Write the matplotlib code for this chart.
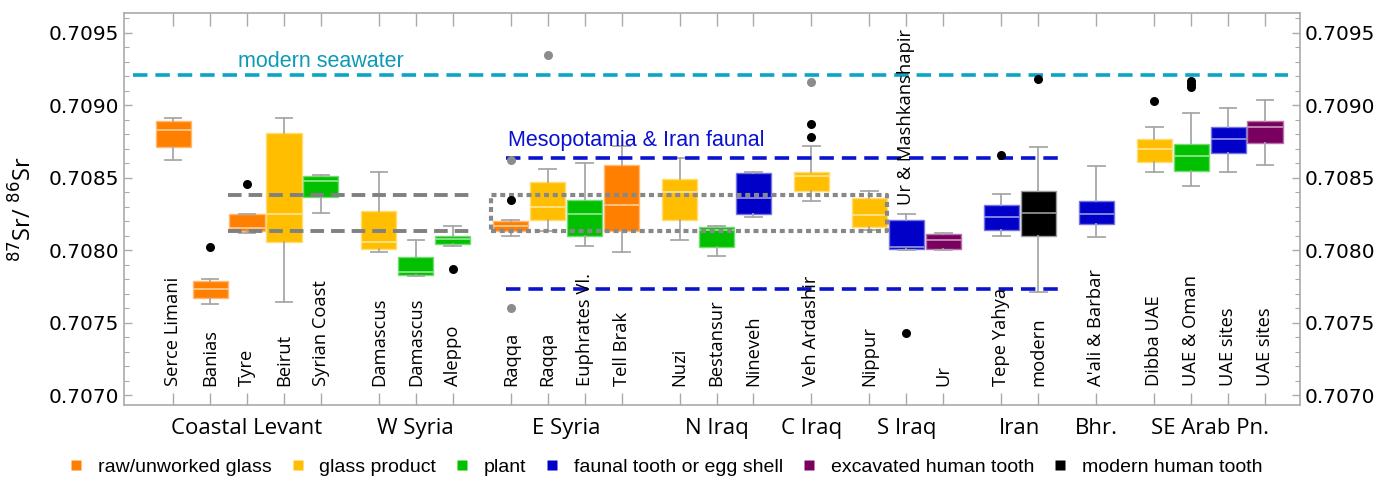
import matplotlib
matplotlib.use("Agg")
import matplotlib.pyplot as plt
from matplotlib.lines import Line2D
from matplotlib.colors import to_rgb
from matplotlib.ticker import MultipleLocator
import matplotlib.transforms as mtransforms

# --- data ---
site_labels = ["Serce Limani", "Banias", "Tyre", "Beirut", "Syrian Coast",
               "Damascus", "Damascus", "Aleppo",
               "Raqqa", "Raqqa", "Euphrates Vl.", "Tell Brak",
               "Nuzi", "Bestansur", "Nineveh",
               "Veh Ardashir",
               "Nippur", "Ur & Mashkanshapir", "Ur",
               "Tepe Yahya", "modern",
               "A'ali & Barbar",
               "Dibba UAE", "UAE & Oman", "UAE sites", "UAE sites"]
site_material = ["raw", "raw", "raw", "glass", "plant",
                 "glass", "plant", "plant",
                 "raw", "glass", "plant", "raw",
                 "glass", "plant", "faunal",
                 "glass",
                 "glass", "faunal", "human",
                 "faunal", "modern",
                 "faunal",
                 "glass", "plant", "faunal", "human"]
group_names = ["Coastal Levant", "W Syria", "E Syria", "N Iraq", "C Iraq",
               "S Iraq", "Iran", "Bhr.", "SE Arab Pn."]
group_sizes = [5, 3, 4, 3, 1, 3, 2, 1, 4]

whis_lo = [0.70862, 0.70763, 0.70812, 0.70764, 0.70826,
           0.70799, 0.70782, 0.70803,
           0.70810, 0.70813, 0.70803, 0.70799,
           0.70807, 0.70796, 0.70823,
           0.70834,
           0.70814, 0.70800, 0.70800,
           0.70810, 0.70771,
           0.70809,
           0.70854, 0.70844, 0.70854, 0.70859]
q1 = [0.70871, 0.70767, 0.70813, 0.70806, 0.70837,
      0.70801, 0.70783, 0.70804,
      0.70813, 0.70821, 0.70810, 0.70813,
      0.70821, 0.70802, 0.70825,
      0.70841,
      0.70816, 0.70801, 0.70801,
      0.70814, 0.70810,
      0.70818,
      0.70861, 0.70855, 0.70867, 0.70874]
medians = [0.70883, 0.70773, 0.70815, 0.70825, 0.70848,
           0.70806, 0.70785, 0.70808,
           0.70817, 0.70830, 0.70825, 0.70831,
           0.70840, 0.70814, 0.70836,
           0.70851,
           0.70824, 0.70802, 0.70807,
           0.70823, 0.70826,
           0.70825,
           0.70870, 0.70865, 0.70877, 0.70885]
q3 = [0.70889, 0.70779, 0.70825, 0.70881, 0.70851,
      0.70827, 0.70795, 0.70810,
      0.70820, 0.70847, 0.70835, 0.70859,
      0.70849, 0.70816, 0.70853,
      0.70854,
      0.70836, 0.70821, 0.70811,
      0.70831, 0.70841,
      0.70834,
      0.70877, 0.70873, 0.70885, 0.70889]
whis_hi = [0.70891, 0.70780, 0.70825, 0.70891, 0.70852,
           0.70854, 0.70807, 0.70817,
           0.70821, 0.70856, 0.70860, 0.70872,
           0.70864, 0.70817, 0.70854,
           0.70872,
           0.70841, 0.70825, 0.70812,
           0.70839, 0.70871,
           0.70858,
           0.70885, 0.70895, 0.70898, 0.70904]

outlier_site = [1, 2, 7, 8, 8, 8, 9, 15, 15, 15, 17, 19, 20, 22, 23, 23, 23]
outlier_value = [0.70802, 0.70846, 0.70787, 0.70835, 0.70862, 0.70760, 0.70935,
                 0.70887, 0.70878, 0.70916, 0.70743, 0.70866, 0.70918, 0.70903,
                 0.70917, 0.70915, 0.70913]
outlier_grey = [False, False, False, False, True, True, True,
                False, False, True, False, False, False, False,
                False, False, False]

seawater = 0.70921
faunal_range = [0.70773, 0.70864]
levant_range = [0.70813, 0.70838]

material_names = ["raw", "glass", "plant", "faunal", "human", "modern"]
material_labels = ["raw/unworked glass", "glass product", "plant",
                   "faunal tooth or egg shell", "excavated human tooth",
                   "modern human tooth"]
material_colors = {"raw": "#FF7F00", "glass": "#FFBF00", "plant": "#00C000",
                   "faunal": "#0000C8", "human": "#7A0060", "modern": "#000000"}

# --- positions: unit spacing inside a group, wider gap between groups ---
GROUP_GAP = 1.57
positions = []
group_centers = []
pos = 1.0
for g, n in enumerate(group_sizes):
    if g > 0:
        pos += GROUP_GAP - 1
    members = []
    for k in range(n):
        members.append(pos)
        positions.append(pos)
        pos += 1
    group_centers.append(sum(members) / len(members))


def lighter(c, f=0.55):
    r, g, b = to_rgb(c)
    return (r + (1 - r) * f, g + (1 - g) * f, b + (1 - b) * f)


fig = plt.figure(figsize=(13.89, 4.8), dpi=100)
ax = fig.add_axes([0.0893, 0.15625, 0.8467, 0.8167])

stats = []
for i in range(len(site_labels)):
    stats.append(dict(whislo=whis_lo[i], q1=q1[i], med=medians[i],
                      q3=q3[i], whishi=whis_hi[i], fliers=[]))

bp = ax.bxp(stats, positions=positions, widths=0.95, patch_artist=True,
            showfliers=False, capwidths=0.45,
            whiskerprops=dict(color="#A8A8A8", lw=1.3),
            capprops=dict(color="#A8A8A8", lw=1.3),
            medianprops=dict(lw=1.2), manage_ticks=False)
for i, box in enumerate(bp["boxes"]):
    c = material_colors[site_material[i]]
    box.set_facecolor(c)
    if site_material[i] == "modern":
        box.set_edgecolor("#9a9a9a")
        bp["medians"][i].set_color("#9a9a9a")
    else:
        box.set_edgecolor(lighter(c, 0.45))
        bp["medians"][i].set_color(lighter(c, 0.6))
    box.set_linewidth(1.0)
    box.set_zorder(2)

# outliers
for s, v, grey in zip(outlier_site, outlier_value, outlier_grey):
    ax.plot(positions[s], v, "o", ms=6.5, color="#8C8C8C" if grey else "black",
            mec="none", zorder=4)

# reference lines
ax.hlines(seawater, -0.08, 31.18, colors="#0AA5C5", linestyles=(0, (4, 2.2)),
          lw=2.6, zorder=3)
ax.text(5.0, 0.70930, "modern seawater", color="#0E9AB5", ha="center",
        va="center", fontsize=15.5, family="Liberation Sans", zorder=5)
ax.hlines(faunal_range, 10.0, 25.1, colors="#0A14D0", linestyles=(0, (4, 2.2)),
          lw=2.6, zorder=3)
ax.text(10.07, 0.70876, "Mesopotamia & Iran faunal", color="#0A10D0", ha="left",
        va="center", fontsize=15.5, family="Liberation Sans", zorder=5)
ax.hlines(levant_range, 2.49, 9.04, colors="#808080", linestyles=(0, (3.5, 1.8)),
          lw=2.8, zorder=3)
rect_x = [9.61, 20.33, 20.33, 9.61, 9.61]
rect_y = [levant_range[0], levant_range[0], levant_range[1], levant_range[1], levant_range[0]]
ax.plot(rect_x, rect_y, color="#888888", ls=(0, (1.2, 0.9)), lw=3.0, zorder=3)

# site labels inside the axes
for i, lab in enumerate(site_labels):
    y0 = 0.70831 if lab == "Ur & Mashkanshapir" else 0.707065
    ax.text(positions[i], y0, lab, rotation=90, ha="center", va="bottom",
            fontsize=13.2, family="Open Sans", zorder=6)

# region labels under the axes
trans = mtransforms.blended_transform_factory(ax.transData, ax.transAxes)
for name, xc in zip(group_names, group_centers):
    ax.text(xc, -0.06, name, transform=trans, ha="center", va="center",
            fontsize=16, family="Open Sans")

ax.set_xlim(positions[0] - 1.33, positions[-1] + 0.95)
ax.set_ylim(0.706931, 0.709638)
ax.set_xticks(positions)
ax.set_xticklabels([])
ax.tick_params(axis="x", direction="in", top=True, bottom=True, length=9,
               color="#AAAAAA", width=1)
ax.yaxis.set_major_locator(MultipleLocator(0.0005))
ax.yaxis.set_minor_locator(MultipleLocator(0.0001))
ax.yaxis.set_major_formatter(matplotlib.ticker.FormatStrFormatter("%.4f"))
ax.tick_params(axis="y", which="both", direction="in", left=True, right=True,
               labelleft=True, labelright=True, color="#AAAAAA", labelsize=14.5)
ax.tick_params(axis="y", which="major", length=6, width=1)
ax.tick_params(axis="y", which="minor", length=3.5, width=0.8)
for sp in ax.spines.values():
    sp.set_color("#AAAAAA")
    sp.set_linewidth(1.2)

ax.set_ylabel(r"$^{87}$Sr/ $^{86}$Sr", fontsize=17, family="Open Sans", labelpad=8)

handles = [Line2D([], [], ls="none", marker="s", ms=7, mec="none",
                  color=material_colors[m]) for m in material_names]
fig.legend(handles, material_labels, loc="center", bbox_to_anchor=(0.479, 0.027),
           ncol=6, frameon=False, handlelength=0.8, handletextpad=0.7,
           columnspacing=0.95, prop=dict(family="Liberation Sans", size=14))

fig.savefig("out.png", dpi=100)
